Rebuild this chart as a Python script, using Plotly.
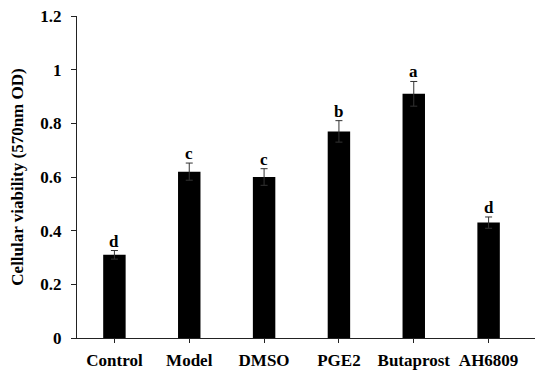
import plotly.graph_objects as go

categories = ["Control", "Model", "DMSO", "PGE2", "Butaprost", "AH6809"]
values = [0.31, 0.62, 0.60, 0.77, 0.91, 0.43]
errors = [0.016, 0.032, 0.031, 0.04, 0.046, 0.021]
letters = ["d", "c", "c", "b", "a", "d"]
ytick_vals = [0, 0.2, 0.4, 0.6, 0.8, 1.0, 1.2]
ytick_text = ["0", "0.2", "0.4", "0.6", "0.8", "1", "1.2"]

font_family = "Liberation Serif"

fig = go.Figure()
fig.add_trace(go.Bar(
    x=list(range(len(categories))),
    y=values,
    width=0.3,
    marker=dict(color="black", line=dict(width=0)),
    error_y=dict(type="data", array=errors, visible=True, color="#333333",
                 thickness=1, width=3.5),
))

for i, (v, e, l) in enumerate(zip(values, errors, letters)):
    fig.add_annotation(x=i, y=v + e, text="<b>%s</b>" % l, showarrow=False,
                       yanchor="bottom", yshift=-2,
                       font=dict(family=font_family, size=17, color="black"))

fig.update_layout(
    width=535, height=370,
    margin=dict(l=77, r=0, t=16, b=32),
    plot_bgcolor="white", paper_bgcolor="white",
    showlegend=False,
    font=dict(family=font_family, color="black"),
    xaxis=dict(
        range=[-0.5, 5.62],
        tickvals=list(range(len(categories))),
        ticktext=["<b>%s</b>" % c for c in categories],
        tickfont=dict(family=font_family, size=17, color="black"),
        showline=True, linecolor="#222222", linewidth=1.3,
        ticks="outside", ticklen=4, tickcolor="#222222", tickwidth=1,
        showgrid=False, zeroline=False,
        ticklabelstandoff=2,
    ),
    yaxis=dict(
        range=[0, 1.2],
        tickvals=ytick_vals,
        ticktext=["<b>%s</b>" % t for t in ytick_text],
        tickfont=dict(family=font_family, size=17, color="black"),
        showline=True, linecolor="#222222", linewidth=1.3,
        ticks="outside", ticklen=5, tickcolor="#222222", tickwidth=1,
        showgrid=False, zeroline=False,
        ticklabelstandoff=6,
        title=dict(text="<b>Cellular viability (570nm OD)</b>",
                   font=dict(family=font_family, size=17, color="black"),
                   standoff=12),
    ),
)

fig.write_html("out.html", config={"displayModeBar": False},
               post_script="document.body.style.margin='0';document.body.style.padding='0';")
